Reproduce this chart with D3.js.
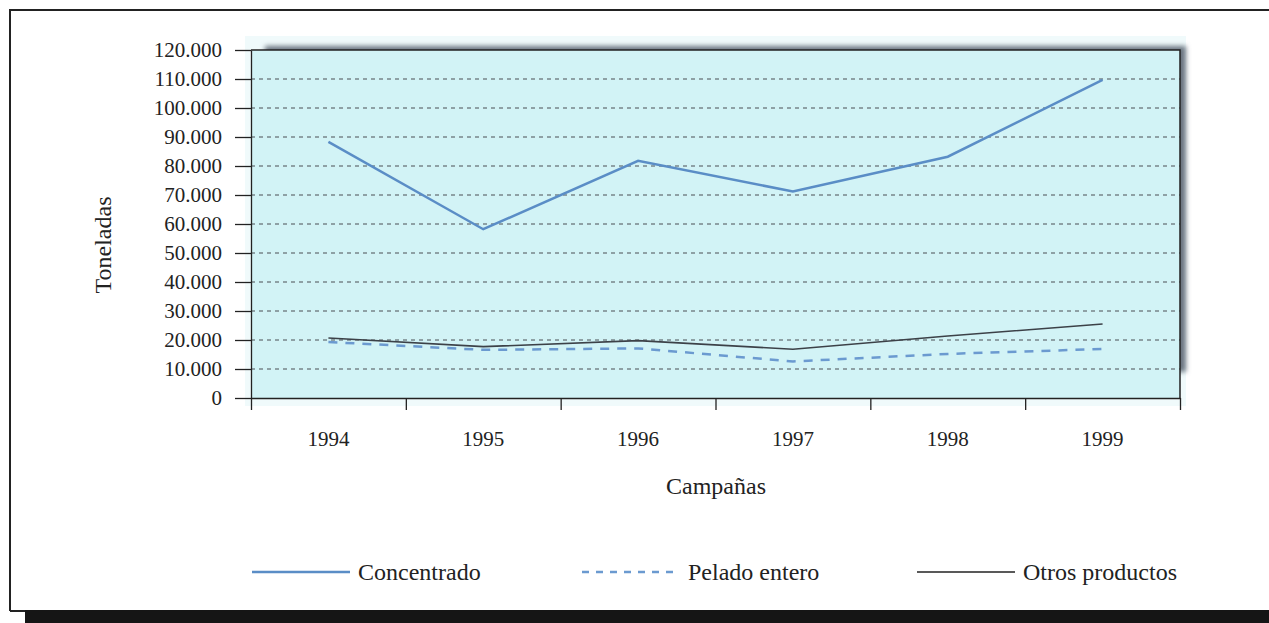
<!DOCTYPE html>
<html>
<head>
<meta charset="utf-8">
<script src="https://cdn.jsdelivr.net/npm/d3@7"></script>
<style>
  body { margin: 0; background: #fff; }
  svg { display: block; }
  svg text { font-family: "Liberation Serif", "DejaVu Serif", serif; }
  .axis text { font-size: 21px; fill: #222; }
  .axis path, .axis line { stroke: #222; stroke-width: 1.3; }
</style>
</head>
<body>
<script>
// data
var years = ['1994', '1995', '1996', '1997', '1998', '1999'];
var concentrado = [88300, 58200, 81800, 71200, 83200, 109700];
var peladoEntero = [19300, 16600, 17100, 12600, 15200, 16900];
var otrosProductos = [20700, 17700, 19800, 16800, 21400, 25500];
var yTicks = [0, 10000, 20000, 30000, 40000, 50000, 60000, 70000, 80000, 90000, 100000, 110000, 120000];
var seriesNames = ['Concentrado', 'Pelado entero', 'Otros productos'];

var w = 1269, h = 623;
var plot = { left: 251, right: 1180, top: 50, bottom: 398 };

var es = d3.formatLocale({ decimal: ',', thousands: '.', grouping: [3], currency: ['', ''] });
var fmt = es.format(',d');

var svg = d3.select('body').append('svg')
    .attr('width', w)
    .attr('height', h);

// Scales
var xScale = d3.scaleBand()
    .domain(years)
    .range([plot.left, plot.right]);

var xEdge = d3.scaleLinear()
    .domain([0, years.length])
    .range([plot.left, plot.right]);

var yScale = d3.scaleLinear()
    .domain([0, 120000])
    .range([plot.bottom, plot.top]);

// outer frame of the page
svg.append('path')
    .attr('d', 'M10,611 V10 H1269')
    .attr('fill', 'none')
    .attr('stroke', '#222')
    .attr('stroke-width', 2);
svg.append('line')
    .attr('x1', 10).attr('x2', 30).attr('y1', 611).attr('y2', 611)
    .attr('stroke', '#222').attr('stroke-width', 2);
svg.append('rect')
    .attr('x', 25).attr('y', 610).attr('width', w - 25).attr('height', h - 610)
    .attr('fill', '#151515');

// plot background with shadow
var defs = svg.append('defs');
defs.append('filter').attr('id', 'blur')
    .append('feGaussianBlur').attr('stdDeviation', 2.5);

svg.append('rect')
    .attr('x', plot.left - 6).attr('y', plot.top - 14)
    .attr('width', plot.right - plot.left + 12).attr('height', plot.bottom - plot.top + 22)
    .attr('fill', '#f0fafb');

svg.append('rect')
    .attr('x', plot.left + 14).attr('y', plot.top - 4)
    .attr('width', plot.right - plot.left - 8).attr('height', plot.bottom - plot.top - 22)
    .attr('fill', '#6a7580')
    .attr('filter', 'url(#blur)');

svg.append('rect')
    .attr('x', plot.left).attr('y', plot.top)
    .attr('width', plot.right - plot.left).attr('height', plot.bottom - plot.top)
    .attr('fill', '#d2f3f6');

// gridlines
svg.append('g')
    .selectAll('line')
    .data(yTicks.filter(function (d) { return d > 0 && d < 120000; }))
    .enter()
    .append('line')
    .attr('x1', plot.left)
    .attr('x2', plot.right)
    .attr('y1', function (d) { return yScale(d); })
    .attr('y2', function (d) { return yScale(d); })
    .attr('stroke', '#4a4f55')
    .attr('stroke-width', 1)
    .attr('stroke-dasharray', '4,4');

// frame top and right
svg.append('path')
    .attr('d', 'M' + plot.left + ',' + plot.top + ' H' + plot.right + ' V' + plot.bottom)
    .attr('fill', 'none')
    .attr('stroke', '#222')
    .attr('stroke-width', 1.5);

// lines
var line = d3.line()
    .x(function (d, i) { return xScale(years[i]) + xScale.bandwidth() / 2; })
    .y(function (d) { return yScale(d); });

svg.append('path')
    .datum(otrosProductos)
    .attr('d', line)
    .attr('fill', 'none')
    .attr('stroke', '#3c4148')
    .attr('stroke-width', 1.6);

svg.append('path')
    .datum(peladoEntero)
    .attr('d', line)
    .attr('fill', 'none')
    .attr('stroke', '#6b9ad0')
    .attr('stroke-width', 2.5)
    .attr('stroke-dasharray', '9,8');

svg.append('path')
    .datum(concentrado)
    .attr('d', line)
    .attr('fill', 'none')
    .attr('stroke', '#5a8dc6')
    .attr('stroke-width', 2.5);

// Y-axis
var yAxis = d3.axisLeft(yScale)
    .tickValues(yTicks)
    .tickSize(16)
    .tickSizeOuter(0)
    .tickPadding(13)
    .tickFormat(fmt);

svg.append('g')
    .attr('class', 'axis')
    .attr('transform', 'translate(' + plot.left + ',0)')
    .call(yAxis)
    .attr('font-family', null)
    .attr('font-size', null);

// X-axis: ticks at band edges, labels at band centres
svg.append('g')
    .attr('class', 'axis')
    .attr('transform', 'translate(0,' + plot.bottom + ')')
    .call(d3.axisBottom(xEdge).tickValues(d3.range(years.length + 1)).tickSize(12).tickSizeOuter(0).tickFormat(''));

svg.append('g')
    .attr('class', 'axis')
    .attr('transform', 'translate(0,' + plot.bottom + ')')
    .call(d3.axisBottom(xScale).tickSize(0).tickPadding(33))
    .attr('font-family', null)
    .attr('font-size', null)
    .call(function (g) { g.select('.domain').remove(); });

// axis titles
svg.append('text')
    .attr('x', 716).attr('y', 494)
    .attr('text-anchor', 'middle')
    .style('font-size', '24px')
    .attr('fill', '#222')
    .text('Campañas');

svg.append('text')
    .attr('transform', 'translate(111,245) rotate(-90)')
    .attr('text-anchor', 'middle')
    .style('font-size', '24px')
    .attr('fill', '#222')
    .text('Toneladas');

// legend
var legendX = [252, 582, 917];
var legendStyles = [
    { stroke: '#5a8dc6', width: 2.5, dash: null },
    { stroke: '#6b9ad0', width: 2.5, dash: '7,7' },
    { stroke: '#222', width: 1.3, dash: null }
];

var legend = svg.append('g').selectAll('g')
    .data(seriesNames)
    .enter()
    .append('g')
    .attr('transform', function (d, i) { return 'translate(' + legendX[i] + ',572)'; });

legend.append('line')
    .attr('x1', 0).attr('x2', 98)
    .attr('stroke', function (d, i) { return legendStyles[i].stroke; })
    .attr('stroke-width', function (d, i) { return legendStyles[i].width; })
    .attr('stroke-dasharray', function (d, i) { return legendStyles[i].dash; });

legend.append('text')
    .attr('x', 106)
    .attr('dy', '0.35em')
    .style('font-size', '24px')
    .attr('fill', '#222')
    .text(function (d) { return d; });
</script>
</body>
</html>
